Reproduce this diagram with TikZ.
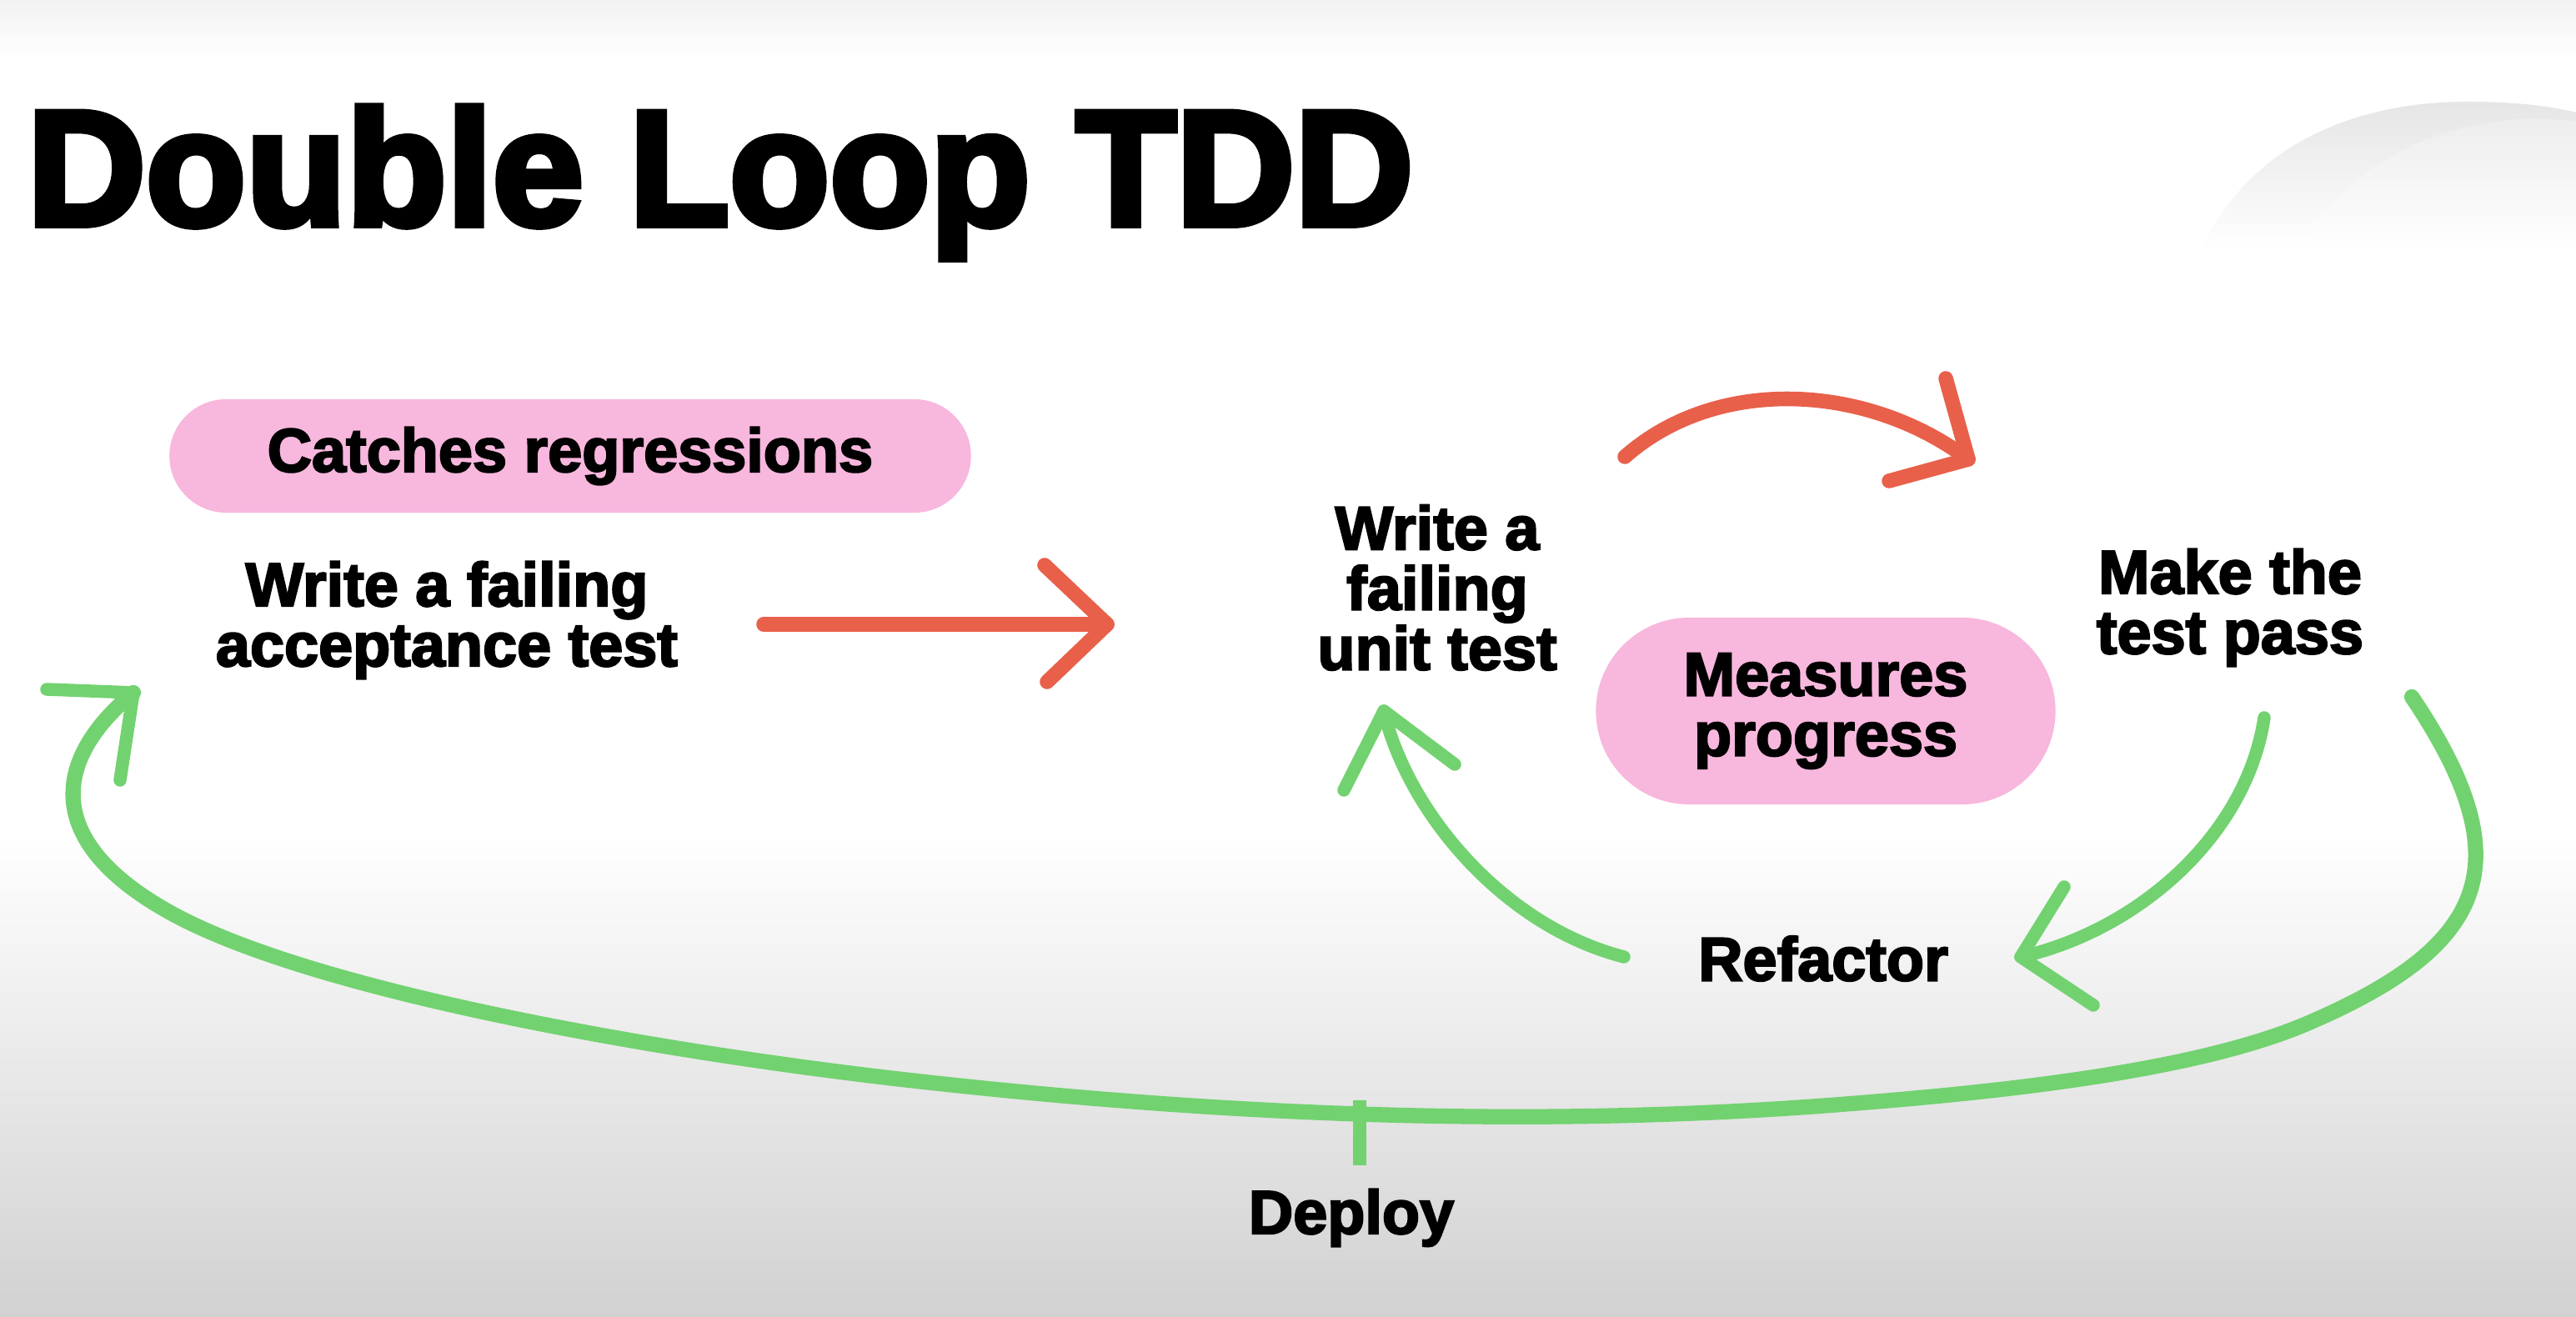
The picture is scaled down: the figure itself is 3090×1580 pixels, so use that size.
\documentclass[tikz,border=0pt]{standalone}
\usepackage{fontspec}
\setmainfont{Liberation Sans}
\newfontfamily\heavy{Liberation Sans Bold}[FakeBold=3]
\newfontfamily\heavytitle{Liberation Sans Bold}[FakeBold=4]
\definecolor{tddred}{RGB}{232,96,74}
\definecolor{tddgreen}{RGB}{114,210,112}
\definecolor{tddpink}{RGB}{248,183,221}
\begin{document}
\begin{tikzpicture}[x=0.01cm,y=-0.01cm,
  lbl/.style={font=\heavy\fontsize{21}{20.5}\selectfont, align=center, inner sep=0pt, text=black},
  pill/.style={lbl, fill=tddpink},
  redarrow/.style={draw=tddred, line width=5pt, line cap=round, line join=round},
  greenarrow/.style={draw=tddgreen, line width=4.4pt, line cap=round, line join=round}]
\useasboundingbox (0,0) rectangle (3090,1580);
% background
\fill[white] (0,0) rectangle (3090,1580);
\shade[top color=white, bottom color=black!18] (0,1000) rectangle (3090,1580);
\shade[top color=black!5, bottom color=white] (0,0) rectangle (3090,70);
\shade[top color=black!10, bottom color=white] (2640,300) .. controls (2700,170) and (2830,122) .. (2960,122) .. controls (3030,122) and (3070,130) .. (3090,135) -- (3090,300) -- cycle;
\shade[top color=black!7, bottom color=white] (2760,300) .. controls (2810,200) and (2920,145) .. (3040,142) -- (3090,145) -- (3090,300) -- cycle;

% title
\node[lbl, font=\heavytitle\fontsize{56}{60}\selectfont, anchor=base west] (title) at (32,270) {Double Loop TDD};

% nodes
\node[pill, minimum width=9.61cm, minimum height=1.36cm, rounded corners=0.68cm] (catch) at (684,547) {Catches regressions};
\node[lbl] (acc) at (536,744) {Write a failing\\acceptance test};
\node[lbl] (unit) at (1724,705) {Write a\\failing\\unit test};
\node[lbl] (make) at (2675,729) {Make the\\test pass};
\node[pill, minimum width=5.51cm, minimum height=2.24cm, rounded corners=1.12cm] (meas) at (2190,853) {Measures\\progress};
\node[lbl] (refac) at (2187,1150) {Refactor};
\node[lbl] (deploy) at (1621,1461) {Deploy};

% connector end points
\coordinate (r1a) at (916,749);  \coordinate (r1b) at (1328,749);
\coordinate (r2a) at (1949,548); \coordinate (r2b) at (2361,551);
\coordinate (g1a) at (2716,861); \coordinate (g1b) at (2424,1148);
\coordinate (g2a) at (1948,1148); \coordinate (g2b) at (1660,853);
\coordinate (g3a) at (2893,836); \coordinate (g3b) at (160,831);
\coordinate (d1) at (1631,1320); \coordinate (d2) at (1631,1398);

% deploy tick
\draw[greenarrow, line cap=butt] (d1) -- (d2);

% red: acceptance -> unit
\draw[redarrow] (r1a) -- (r1b);
\draw[redarrow] (1253,678) -- (r1b) -- (1256,818);
% red: unit -> make
\draw[redarrow] (r2a) .. controls (2060,450) and (2240,460) .. (r2b);
\draw[redarrow] (2334,454) -- (r2b) -- (2266,577);

% green: make -> refactor
\draw[greenarrow] (g1a) .. controls (2695,1000) and (2568,1115) .. (g1b);
\draw[greenarrow] (2476,1064) -- (g1b) -- (2511,1206);
% green: refactor -> unit
\draw[greenarrow] (g2a) .. controls (1800,1110) and (1687,970) .. (g2b);
\draw[greenarrow] (1612,948) -- (g2b) -- (1745,917);
% green: big loop make -> acceptance
\draw[greenarrow, line width=5.2pt] (g3a)
   .. controls (3027,1035) and (2986,1135) .. (2765,1229)
   .. controls (2627,1287) and (2388,1311) .. (2208,1325)
   .. controls (1839,1354) and (1466,1338) .. (1100,1297)
   .. controls (803,1264) and (386,1192) .. (210,1098)
   .. controls (52,1013) and (60,914) .. (g3b);
\draw[greenarrow] (56,827) -- (g3b) -- (144,936);
\end{tikzpicture}
\end{document}
